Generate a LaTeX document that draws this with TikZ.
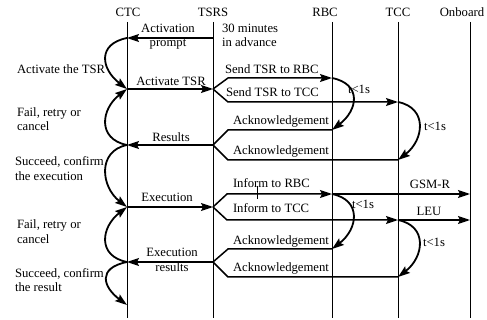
\documentclass[tikz,border=0pt]{standalone}
\usepackage{fontspec}
\setmainfont{Liberation Serif}
\usetikzlibrary{arrows.meta}
\begin{document}
\begin{tikzpicture}[x=1pt,y=-1pt,
  every node/.style={inner sep=0pt, outer sep=0pt, font=\fontsize{12.7}{14.5}\selectfont},
  lifeline/.style={line width=0.9pt},
  tip/.style={-{Stealth[length=12pt,width=8pt,inset=2pt]}},
  msg/.style={line width=1.5pt, tip},
  ack/.style={line width=1.5pt},
  loopar/.style={line width=1.8pt, tip},
  lbl/.style={anchor=base},
  lbll/.style={anchor=base west, align=left},
  lblr/.style={anchor=base east}
]
\useasboundingbox (0,0) rectangle (487,320);

% lifeline heads
\node[lbl] (ctc)  at (128,17) {CTC};
\node[lbl] (tsrs) at (213,17) {TSRS};
\node[lbl] (rbc)  at (325,17) {RBC};
\node[lbl] (tcc)  at (398,17) {TCC};
\node[lbl] (onb)  at (462,17) {Onboard};

\foreach \n/\x in {ctc/127, tsrs/213, rbc/332, tcc/398, onb/470}{
  \coordinate (\n T) at (\x,22);
  \coordinate (\n B) at (\x,318);
  \draw[lifeline] (\n T) -- (\n B);
}

% points
\coordinate (c1) at (127,38);  \coordinate (s1) at (213,38);
\coordinate (c2) at (127,89);  \coordinate (s2) at (213,89);
\coordinate (b1) at (228,78);  \coordinate (r1) at (332,78);
\coordinate (b2) at (228,102); \coordinate (t1) at (398,102);
\coordinate (r2) at (332,130); \coordinate (b3) at (228,130);
\coordinate (t2) at (398,160); \coordinate (b4) at (228,160);
\coordinate (s3) at (213,145); \coordinate (c3) at (127,145);
\coordinate (c4) at (127,207); \coordinate (s4) at (213,207);
\coordinate (b5) at (227,194); \coordinate (r3) at (332,194); \coordinate (o1) at (470,194);
\coordinate (b6) at (227,220); \coordinate (t3) at (398,220); \coordinate (o2) at (470,220);
\coordinate (r4) at (332,249); \coordinate (b7) at (228,249);
\coordinate (t4) at (398,277); \coordinate (b8) at (228,277);
\coordinate (s5) at (213,262); \coordinate (c5) at (127,262);
\coordinate (c6) at (127,305);

% messages
\draw[msg] (s1) -- (c1);
\draw[msg] (c2) -- (s2);
\draw[msg] (s2) -- (b1) -- (r1);
\draw[msg] (s2) -- (b2) -- (t1);
\draw[ack] (r2) -- (b3) -- (s3);
\draw[ack] (t2) -- (b4) -- (s3);
\draw[msg] (s3) -- (c3);
\draw[msg] (c4) -- (s4);
\draw[msg] (s4) -- (b5) -- (r3);
\draw[msg] (r3) -- (o1);
\draw[msg] (s4) -- (b6) -- (t3);
\draw[msg] (t3) -- (o2);
\draw[ack] (r4) -- (b7) -- (s5);
\draw[ack] (t4) -- (b8) -- (s5);
\draw[msg] (s5) -- (c5);

% left loops
\draw[loopar] (c1) .. controls +(-30,6) and +(-26,-20) .. (c2);
\draw[loopar] (c3) .. controls +(-30,-6) and +(-26,20) .. (c2);
\draw[loopar] (c3) .. controls +(-30,6) and +(-26,-20) .. (c4);
\draw[loopar] (c5) .. controls +(-30,-6) and +(-26,20) .. (c4);
\draw[loopar] (c5) .. controls +(-30,6) and +(-24,-18) .. (c6);

% right loops
\draw[loopar] (r1) .. controls +(30,6) and +(26,-20) .. (r2);
\draw[loopar] (t1) .. controls +(30,6) and +(26,-20) .. (t2);
\draw[loopar] (r3) .. controls +(30,6) and +(26,-20) .. (r4);
\draw[loopar] (t3) .. controls +(30,6) and +(26,-20) .. (t4);

% small tick
\coordinate (k1) at (257,186); \coordinate (k2) at (257,199);
\draw[line width=0.8pt] (k1) -- (k2);

% labels (multi-line: base = last line's baseline)
\node[anchor=base, align=center] (lap) at (168,47) {Activation\\prompt};
\node[lbll] (l30) at (222,47) {30 minutes\\in advance};
\node[lbll] (lact) at (17,74) {Activate the TSR};
\node[lbl] (lat) at (171,86) {Activate TSR};
\node[lbll] (ls1) at (225,74) {Send TSR to RBC};
\node[lbll] (ls2) at (226,97) {Send TSR to TCC};
\node[lbl] (lt1) at (359,94) {t<1s};
\node[lblr] (la1) at (329,125) {Acknowledgement};
\node[lblr] (la2) at (329,155) {Acknowledgement};
\node[lbl] (lres) at (171,142) {Results};
\node[lbl] (lt2) at (435,131) {t<1s};
\node[lbll] (lf1) at (17,131) {Fail, retry or\\cancel};
\node[lbll] (lsc1) at (15,180.5) {Succeed, confirm\\the execution};
\node[lbl] (lex) at (167,202) {Execution};
\node[lbll] (li1) at (233,188) {Inform to RBC};
\node[lbll] (li2) at (233,213) {Inform to TCC};
\node[lbl] (lgsm) at (430,189) {GSM-R};
\node[lbl] (lleu) at (429,216) {LEU};
\node[lbl] (lt3) at (363,209) {t<1s};
\node[lbl] (lt4) at (434,247) {t<1s};
\node[lblr] (la3) at (329,245) {Acknowledgement};
\node[lblr] (la4) at (329,272) {Acknowledgement};
\node[anchor=base, align=center] (lexr) at (172,271.5) {Execution\\results};
\node[lbll] (lf2) at (17,243.5) {Fail, retry or\\cancel};
\node[lbll] (lsc2) at (15,291.5) {Succeed, confirm\\the result};
\end{tikzpicture}
\end{document}
